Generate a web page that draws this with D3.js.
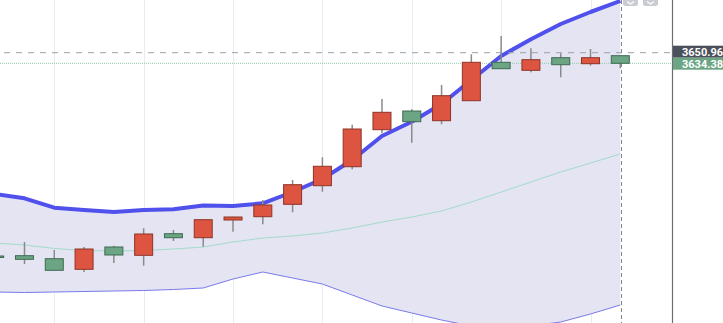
<!DOCTYPE html>
<html>
<head>
<meta charset="utf-8">
<title>K线 布林带</title>
<script src="https://cdn.jsdelivr.net/npm/d3@7/dist/d3.min.js"></script>
<style>
  body { margin: 0; background: #fff; overflow: hidden; }
  svg { display: block; }
</style>
</head>
<body>
<script>
// 日K数据 (open, high, low, close)
var open  = [3333.00, 3333.47, 3328.77, 3312.19, 3347.07, 3334.09, 3367.87, 3361.62, 3389.30, 3394.46, 3413.85,
             3442.95, 3472.66, 3530.53, 3559.78, 3544.61, 3575.89, 3635.94, 3623.43, 3643.14, 3633.75, 3646.27];
var high  = [3334.50, 3354.89, 3342.38, 3347.07, 3349.11, 3376.32, 3373.66, 3390.50, 3394.50, 3420.58, 3451.86,
             3487.36, 3538.35, 3578.54, 3562.43, 3600.44, 3648.45, 3677.08, 3657.84, 3650.02, 3656.74, 3646.27];
var low   = [3329.50, 3320.48, 3310.00, 3307.97, 3322.05, 3317.83, 3356.46, 3347.54, 3371.00, 3382.57, 3401.34,
             3433.56, 3468.59, 3524.90, 3510.20, 3538.97, 3575.89, 3625.93, 3620.30, 3612.48, 3630.63, 3626.56];
var close = [3330.70, 3327.83, 3310.63, 3343.94, 3334.56, 3367.40, 3361.62, 3389.77, 3393.99, 3412.76, 3444.51,
             3473.29, 3531.62, 3557.74, 3543.04, 3583.71, 3635.94, 3625.93, 3640.01, 3632.19, 3643.14, 3634.38];

// 布林带 上轨 / 中轨 / 下轨
var upper  = [3429.96, 3423.24, 3408.54, 3404.94, 3401.81, 3404.94, 3406.03, 3411.98, 3411.20, 3415.42, 3433.09,
              3453.42, 3483.14, 3520.68, 3543.04, 3570.72, 3608.26, 3645.80, 3671.91, 3695.84, 3714.61, 3731.82];
var middle = [3353.33, 3350.20, 3344.73, 3341.60, 3340.82, 3341.60, 3343.94, 3347.07, 3354.89, 3361.15, 3364.28,
              3368.97, 3376.79, 3386.17, 3393.99, 3403.38, 3417.45, 3433.09, 3448.73, 3464.37, 3478.45, 3492.52];
var lower  = [3276.69, 3275.91, 3276.69, 3277.47, 3278.26, 3279.04, 3280.60, 3282.95, 3297.02, 3307.97, 3298.59,
              3289.20, 3272.00, 3254.80, 3243.85, 3232.90, 3223.52, 3220.39, 3223.52, 3229.77, 3242.28, 3256.36];

var crosshairPrice = 3650.96;
var crosshairIndex = 21;
var gridEvery = 3;

var width = 723, height = 323, plotRight = 672;

var x = d3.scaleLinear().domain([0, 21]).range([-5.3, 620.3]);
var y = d3.scaleLinear().domain([3228.21, 3733.38]).range([height, 0]);

var data = open.map(function(o, i){
    return {i: i, o: o, h: high[i], l: low[i], c: close[i], up: upper[i], mid: middle[i], lo: lower[i]};
});

var svg = d3.select("body").append("svg")
    .attr("width", width)
    .attr("height", height);

var plot = svg.append("g");

// 竖直网格
plot.selectAll("line.grid")
    .data(data.filter(function(d){ return d.i % gridEvery == 2; }))
  .enter().append("line")
    .attr("class", "grid")
    .attr("x1", function(d){ return Math.round(x(d.i)) + 0.5; })
    .attr("x2", function(d){ return Math.round(x(d.i)) + 0.5; })
    .attr("y1", 0).attr("y2", height)
    .attr("stroke", "#e6edf2").attr("stroke-width", 1);

// 布林带填充
var band = d3.area()
    .x(function(d){ return x(d.i); })
    .y0(function(d){ return y(d.lo); })
    .y1(function(d){ return y(d.up); });
plot.append("path").datum(data)
    .attr("d", band)
    .attr("fill", "#e4e4f2");

function lineOf(key){
    return d3.line()
        .x(function(d){ return x(d.i); })
        .y(function(d){ return y(d[key]); });
}

plot.append("path").datum(data)
    .attr("d", lineOf("mid"))
    .attr("fill", "none").attr("stroke", "#a3dccb").attr("stroke-width", 1);
plot.append("path").datum(data)
    .attr("d", lineOf("lo"))
    .attr("fill", "none").attr("stroke", "#7a7aec").attr("stroke-width", 1);
plot.append("path").datum(data)
    .attr("d", lineOf("up"))
    .attr("fill", "none").attr("stroke", "#5050ec").attr("stroke-width", 4)
    .attr("stroke-linejoin", "round");

// 最新价 点线
var lastClose = close[close.length - 1];
plot.append("line")
    .attr("x1", 0).attr("x2", plotRight)
    .attr("y1", y(lastClose)).attr("y2", y(lastClose))
    .attr("stroke", "#8fcaa8").attr("stroke-width", 1)
    .attr("stroke-dasharray", "1,1");

// 十字线
plot.append("line")
    .attr("x1", 4).attr("x2", plotRight)
    .attr("y1", y(crosshairPrice)).attr("y2", y(crosshairPrice))
    .attr("stroke", "#9aa0a8").attr("stroke-width", 1)
    .attr("stroke-dasharray", "6,6");
plot.append("line")
    .attr("x1", x(crosshairIndex) + 1.2).attr("x2", x(crosshairIndex) + 1.2)
    .attr("y1", 0).attr("y2", height)
    .attr("stroke", "#7f8590").attr("stroke-width", 1)
    .attr("stroke-dasharray", "4,3");

// K线 (红涨绿跌)
var candles = plot.selectAll("g.candle")
    .data(data)
  .enter().append("g")
    .attr("class", "candle");

candles.append("line")
    .attr("x1", function(d){ return x(d.i); })
    .attr("x2", function(d){ return x(d.i); })
    .attr("y1", function(d){ return y(d.h); })
    .attr("y2", function(d){ return y(d.l); })
    .attr("stroke", "#8a8a8a").attr("stroke-width", 1.5);

candles.append("rect")
    .attr("x", function(d){ return x(d.i) - 9; })
    .attr("width", 18)
    .attr("y", function(d){ return y(Math.max(d.o, d.c)); })
    .attr("height", function(d){ return Math.max(1, Math.abs(y(d.o) - y(d.c))); })
    .attr("fill", function(d){ return d.c >= d.o ? "#dd5540" : "#6ba584"; })
    .attr("stroke", function(d){ return d.c >= d.o ? "#8e3426" : "#3e6b52"; })
    .attr("stroke-width", 1);

// 右上角按钮
[623, 643].forEach(function(bx){
    svg.append("path")
        .attr("d", "M" + bx + ",0h15v3.5q0,2.5-2.5,2.5h-10q-2.5,0-2.5-2.5z")
        .attr("fill", "#c9ccd3");
    svg.append("path")
        .attr("d", "M" + (bx + 4) + ",1.5l3.5,2.5l3.5,-2.5")
        .attr("fill", "none").attr("stroke", "#fff").attr("stroke-width", 1.3);
});

// 价格轴
svg.append("rect")
    .attr("x", plotRight).attr("y", 0)
    .attr("width", width - plotRight).attr("height", height)
    .attr("fill", "#fff");
svg.append("line")
    .attr("x1", plotRight + 0.5).attr("x2", plotRight + 0.5)
    .attr("y1", 0).attr("y2", height)
    .attr("stroke", "#6a6d74").attr("stroke-width", 1.2);

var fmt = d3.format(".2f");
var tags = [
    {v: crosshairPrice, y0: y(crosshairPrice) - 7, fill: "#4b505b"},
    {v: lastClose, y0: y(crosshairPrice) + 5, fill: "#6ba584"}
];
tags.forEach(function(t){
    svg.append("rect")
        .attr("x", plotRight + 1).attr("y", t.y0)
        .attr("width", width - plotRight).attr("height", 12)
        .attr("fill", t.fill);
    svg.append("text")
        .attr("x", plotRight + 10).attr("y", t.y0 + 10)
        .attr("fill", "#fff")
        .attr("font-family", "Roboto, 'Liberation Sans', sans-serif")
        .attr("font-size", 11).attr("font-weight", "bold")
        .text(fmt(t.v));
});
</script>
</body>
</html>
